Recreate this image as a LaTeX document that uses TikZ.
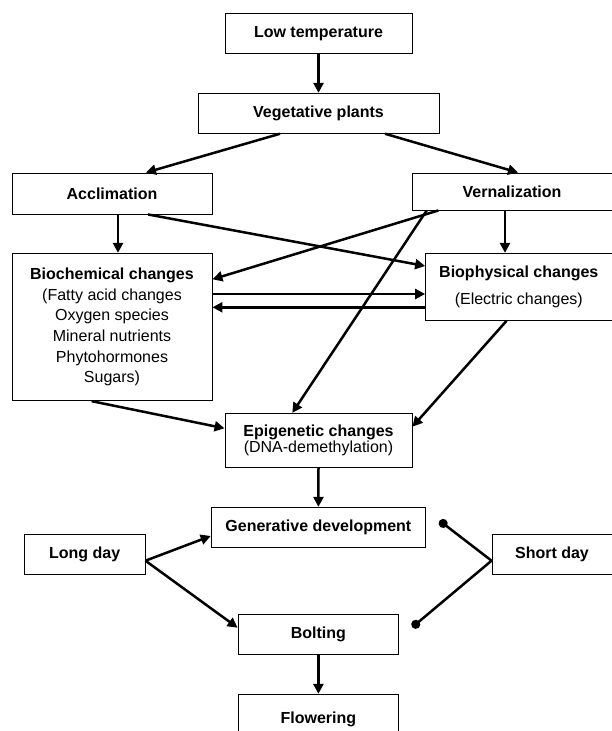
\documentclass[tikz,border=0pt]{standalone}
\usepackage{fontspec}
\setmainfont{Liberation Sans}
\usetikzlibrary{arrows.meta,calc}
\begin{document}
\begin{tikzpicture}[x=1pt,y=-1pt,
  box/.style={draw, line width=0.9pt, inner sep=0pt, align=center, font=\fontsize{16}{20.7}\selectfont},
  arr/.style={line width=2.5pt, -{Triangle[length=10pt,width=10pt]}},
  dotline/.style={line width=2.5pt, -{Circle[length=9pt]}}]
\useasboundingbox (0,0) rectangle (611,731);
\node[box, minimum width=187pt, minimum height=40pt] (lowt) at (318.5,33.3) {\textbf{Low temperature}};
\node[box, minimum width=241pt, minimum height=40pt] (veg) at (318.5,113.3) {\textbf{Vegetative plants}};
\node[box, minimum width=200pt, minimum height=41pt] (accl) at (112,193.5) {\textbf{Acclimation}};
\node[box, minimum width=200pt, minimum height=37pt] (vern) at (512,191.5) {\textbf{Vernalization}};
\node[box, minimum width=200pt, minimum height=147.4pt] (bioc) at (112,327)
  {\raisebox{3.7pt}{\begin{tabular}{@{}c@{}}\textbf{Biochemical changes}\\(Fatty acid changes\\Oxygen species\\Mineral nutrients\\Phytohormones\\Sugars)\end{tabular}}};
\node[box, minimum width=186.4pt, minimum height=67pt] (biop) at (518.8,286.8)
  {\textbf{Biophysical changes}\\[6.6pt](Electric changes)};
\node[box, minimum width=187pt, minimum height=54pt, font=\fontsize{16}{16.7}\selectfont] (epi) at (318.5,440.3)
  {\textbf{Epigenetic changes}\\(DNA-demethylation)};
\node[box, minimum width=214.4pt, minimum height=40pt] (gen) at (318.4,527.3) {\textbf{Generative development}};
\node[box, minimum width=120.8pt, minimum height=40.3pt] (long) at (84.6,554.2) {\textbf{Long day}};
\node[box, minimum width=120pt, minimum height=40.3pt] (short) at (552,554.2) {\textbf{Short day}};
\node[box, minimum width=160.7pt, minimum height=40pt] (bolt) at (318.4,634.3) {\textbf{Bolting}};
\node[box, minimum width=160.7pt, minimum height=60pt, text depth=0pt] (flow) at (318.4,724.3) {\raisebox{14pt}{\textbf{Flowering}}};
\coordinate (gendot) at (439.6,520.7);
\coordinate (boltdot) at (412.3,627.2);
% connectors
\draw[arr] (lowt.south) -- (veg.north);
\draw[arr] ([xshift=-38.5pt]veg.south) -- ([xshift=34pt]accl.north);
\draw[arr] ([xshift=66.5pt]veg.south) -- ([xshift=6pt]vern.north);
\draw[arr] ([xshift=6pt]accl.south) -- ([xshift=6pt]accl.south |- bioc.north);
\draw[arr] ([xshift=-7pt]vern.south) -- ([xshift=-7pt]vern.south |- biop.north);
\draw[arr] ([xshift=36pt]accl.south) -- ([yshift=20.8pt]biop.west);
\draw[arr] ([xshift=-73.6pt]vern.south) -- ([yshift=47.7pt]bioc.east);
\draw[arr] ([xshift=-85.3pt]vern.south) -- ([xshift=-26.2pt]epi.north);
\draw[arr] ([yshift=33pt]bioc.east) -- ([yshift=33pt]bioc.east -| biop.west);
\draw[arr] ([yshift=-20.5pt]biop.west) -- ([yshift=-20.5pt]biop.west -| bioc.east);
\draw[arr] ([xshift=-20.4pt]bioc.south) -- ([yshift=12pt]epi.west);
\draw[arr] ([xshift=-12.2pt]biop.south) -- ([yshift=13.6pt]epi.east);
\draw[arr] (epi.south) -- (gen.north);
\draw[arr] ([yshift=-6.5pt]long.east) -- ([yshift=-8.7pt]gen.west);
\draw[arr] ([yshift=-6.5pt]long.east) -- ([yshift=6.6pt]bolt.west);
\draw[dotline] ([yshift=-6.5pt]short.west) -- (gendot);
\draw[dotline] ([yshift=-6.5pt]short.west) -- (boltdot);
\draw[arr] (bolt.south) -- (flow.north);
\end{tikzpicture}
\end{document}
